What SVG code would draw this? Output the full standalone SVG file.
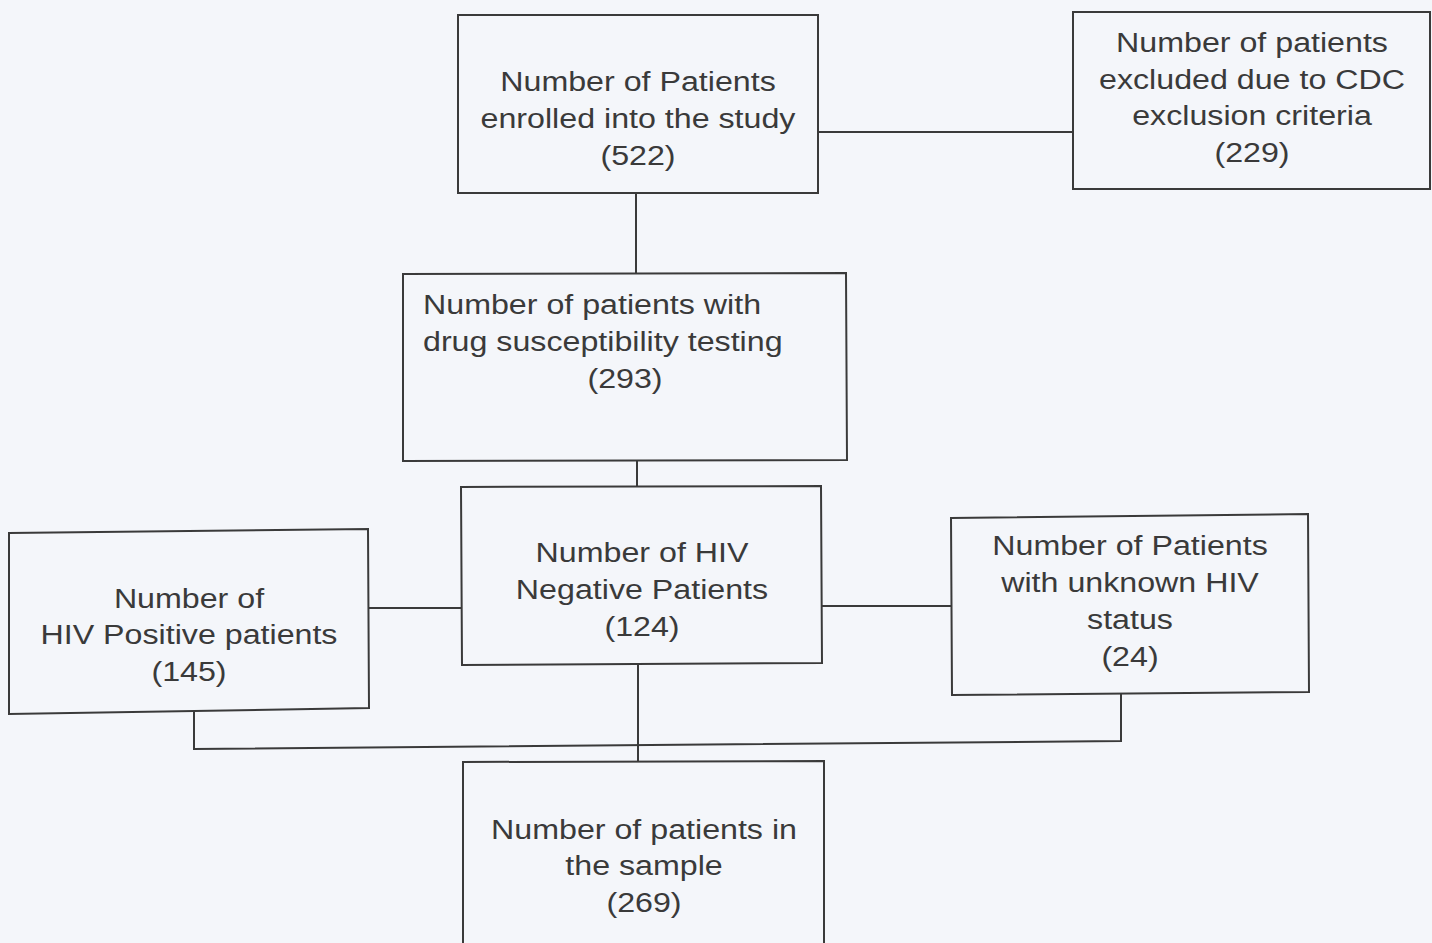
<svg xmlns="http://www.w3.org/2000/svg" width="1432" height="943" viewBox="0 0 1432 943">
<style>
.box{fill:none;stroke:#3a3a3a;stroke-width:2}
.ln{fill:none;stroke:#3a3a3a;stroke-width:2}
text{font-family:"Liberation Sans",Arial,sans-serif;font-size:28px;fill:#3a3a3a}
.c{text-anchor:middle}
</style>
<rect width="1432" height="943" fill="#f4f6fa"/>
<g id="connectors">
<line class="ln" x1="818" y1="132" x2="1073" y2="132"/>
<line class="ln" x1="636" y1="193" x2="636" y2="274"/>
<line class="ln" x1="637" y1="460" x2="637" y2="487"/>
<line class="ln" x1="368" y1="608" x2="461" y2="608"/>
<line class="ln" x1="821" y1="606" x2="952" y2="606"/>
<line class="ln" x1="638" y1="664" x2="638" y2="762"/>
<polyline class="ln" points="194,711 194,749 1121,741 1121,693"/>
</g>
<g id="enrolled">
<rect class="box" x="458" y="15" width="360" height="178"/>
<text class="c" transform="translate(638,91) scale(1.15,1)">Number of Patients</text>
<text class="c" transform="translate(638,128) scale(1.15,1)">enrolled into the study</text>
<text class="c" transform="translate(638,165) scale(1.15,1)">(522)</text>
</g>
<g id="excluded">
<rect class="box" x="1073" y="12" width="357" height="177"/>
<text class="c" transform="translate(1252,52) scale(1.15,1)">Number of patients</text>
<text class="c" transform="translate(1252,89) scale(1.15,1)">excluded due to CDC</text>
<text class="c" transform="translate(1252,125) scale(1.15,1)">exclusion criteria</text>
<text class="c" transform="translate(1252,162) scale(1.15,1)">(229)</text>
</g>
<g id="dst">
<polygon class="box" points="403,274 846,273 847,460 403,461"/>
<text transform="translate(423,314) scale(1.15,1)">Number of patients with</text>
<text transform="translate(423,351) scale(1.15,1)">drug susceptibility testing</text>
<text class="c" transform="translate(625,388) scale(1.15,1)">(293)</text>
</g>
<g id="hivneg">
<polygon class="box" points="461,487 821,486 822,663 462,665"/>
<text class="c" transform="translate(642,562) scale(1.15,1)">Number of HIV</text>
<text class="c" transform="translate(642,599) scale(1.15,1)">Negative Patients</text>
<text class="c" transform="translate(642,636) scale(1.15,1)">(124)</text>
</g>
<g id="hivpos">
<polygon class="box" points="9,533 368,529 369,708 9,714"/>
<text class="c" transform="translate(189,608) scale(1.15,1)">Number of</text>
<text class="c" transform="translate(189,644) scale(1.15,1)">HIV Positive patients</text>
<text class="c" transform="translate(189,681) scale(1.15,1)">(145)</text>
</g>
<g id="unknown">
<polygon class="box" points="951,518 1308,514 1309,692 952,695"/>
<text class="c" transform="translate(1130,555) scale(1.15,1)">Number of Patients</text>
<text class="c" transform="translate(1130,592) scale(1.15,1)">with unknown HIV</text>
<text class="c" transform="translate(1130,629) scale(1.15,1)">status</text>
<text class="c" transform="translate(1130,666) scale(1.15,1)">(24)</text>
</g>
<g id="sample">
<polyline class="box" points="463,945 463,762 824,761 824,945"/>
<text class="c" transform="translate(644,839) scale(1.15,1)">Number of patients in</text>
<text class="c" transform="translate(644,875) scale(1.15,1)">the sample</text>
<text class="c" transform="translate(644,912) scale(1.15,1)">(269)</text>
</g>
</svg>
